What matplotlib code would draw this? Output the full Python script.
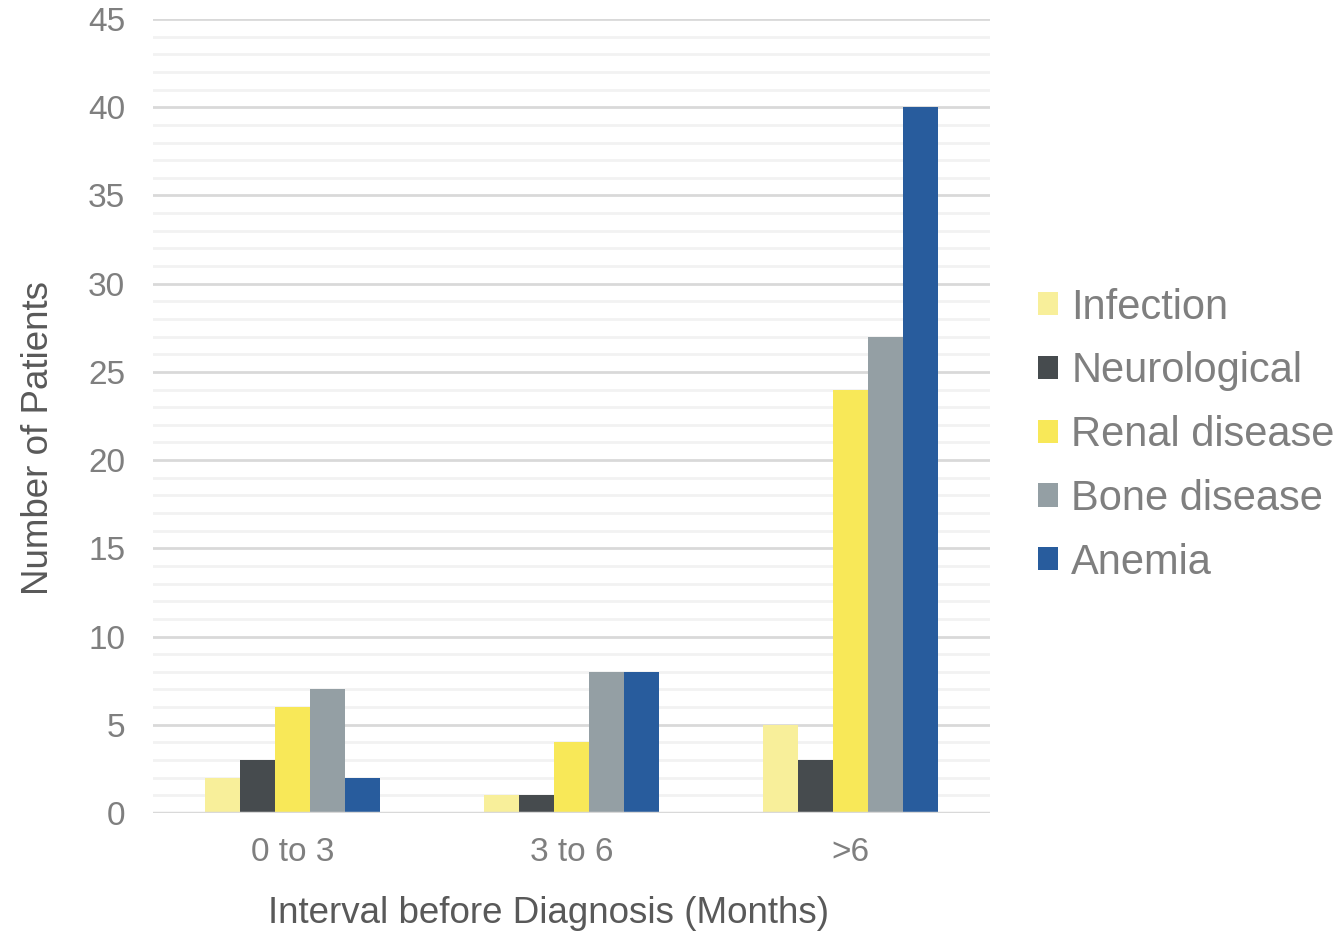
import matplotlib
matplotlib.use("Agg")
import matplotlib.pyplot as plt
import numpy as np
from matplotlib.ticker import MultipleLocator

categories = ["0 to 3", "3 to 6", ">6"]
series_names = ["Infection", "Neurological", "Renal disease", "Bone disease", "Anemia"]
infection = [2, 1, 5]
neurological = [3, 1, 3]
renal = [6, 4, 24]
bone = [7, 8, 27]
anemia = [2, 8, 40]
colors = ["#F8EF9A", "#464B4E", "#F8E858", "#949FA4", "#285C9D"]

plt.rcParams["font.family"] = ["Liberation Sans", "DejaVu Sans"]

fig = plt.figure(figsize=(13.42, 9.32), dpi=100)
ax = fig.add_axes([0.114, 0.1277, 0.6237, 0.8519])

x = np.arange(len(categories))
width = 0.125
all_series = [infection, neurological, renal, bone, anemia]
for i, (name, vals, c) in enumerate(zip(series_names, all_series, colors)):
    offs = (i - 2) * width
    ax.bar(x + offs, vals, width, color=c, label=name, zorder=3, linewidth=0)

ax.set_xlim(-0.5, 2.5)
ax.set_ylim(0, 45)
ax.yaxis.set_major_locator(MultipleLocator(5))
ax.yaxis.set_minor_locator(MultipleLocator(1))
ax.grid(which="major", axis="y", color="#D9D9D9", linewidth=2, zorder=0)
ax.grid(which="minor", axis="y", color="#F2F2F2", linewidth=2, zorder=0)
ax.axhline(0, color="#D9D9D9", linewidth=2.5, zorder=4)
for s in ax.spines.values():
    s.set_visible(False)
ax.tick_params(axis="both", which="both", length=0, labelsize=24, labelcolor="#7F7F7F")
ax.tick_params(axis="x", pad=17)
ax.tick_params(axis="y", pad=20)
ax.set_xticks(x)
ax.set_xticklabels(categories)

ax.set_xlabel("Interval before Diagnosis (Months)", fontsize=26.5, color="#595959")
ax.set_ylabel("Number of Patients", fontsize=26.5, color="#595959")
ax.xaxis.set_label_coords(0.472, -0.104)
ax.yaxis.set_label_coords(-0.116, 0.472)

leg = ax.legend(loc="center left", bbox_to_anchor=(1.013, 0.476), frameon=False,
                fontsize=30, labelcolor="#7F7F7F", handlelength=0.48, handleheight=0.48,
                handletextpad=0.31, labelspacing=0.57)

fig.savefig("out.png", dpi=100, facecolor="white")
